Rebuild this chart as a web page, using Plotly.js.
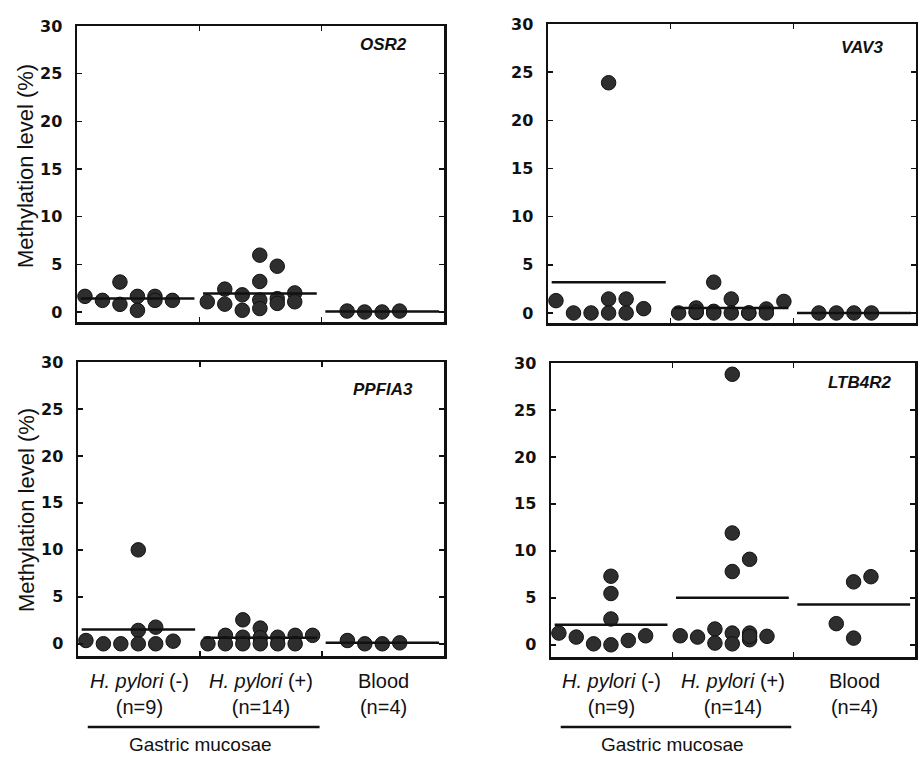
<!DOCTYPE html>
<html>
<head>
<meta charset="utf-8">
<script src="https://cdn.plot.ly/plotly-3.0.1.min.js"></script>
<style>html,body{margin:0;padding:0;background:#fff;}#chart{width:918px;height:758px;}</style>
</head>
<body>
<div id="chart"></div>
<script>
// ---- data ----
const genes = ['OSR2', 'VAV3', 'PPFIA3', 'LTB4R2'];
const groupNames = ['<i>H. pylori</i> (-)', '<i>H. pylori</i> (+)', 'Blood'];
const groupN = ['(n=9)', '(n=14)', '(n=4)'];
const bracketLabel = 'Gastric mucosae';
const yTicks = [0, 5, 10, 15, 20, 25, 30];
const yTitle = 'Methylation level (%)';

// values per group and column index of each dot within its group
const osr2Neg = [1.64, 1.22, 3.14, 0.8, 1.64, 0.17, 1.64, 1.22, 1.22];
const osr2NegCol = [0, 1, 2, 2, 3, 3, 4, 4, 5];
const osr2Pos = [1.07, 2.4, 0.82, 1.8, 0.18, 5.96, 3.2, 1.25, 0.36, 4.8, 1.4, 0.9, 2.0, 1.07];
const osr2PosCol = [0, 1, 1, 2, 2, 3, 3, 3, 3, 4, 4, 4, 5, 5];
const osr2Blood = [0.1, 0, 0, 0.1];
const osr2BloodCol = [1, 2, 3, 4];
const osr2Means = [1.41, 1.95, 0.05];

const vav3Neg = [1.28, 0, 0, 23.9, 1.45, 0, 1.45, 0, 0.45];
const vav3NegCol = [0, 1, 2, 3, 3, 3, 4, 4, 5];
const vav3Pos = [0, 0.52, 0.05, 3.2, 0.17, 0, 1.45, 0, 0, 0.41, 0, 1.2, 0.1, 0];
const vav3PosCol = [0, 1, 1, 2, 2, 2, 3, 3, 4, 5, 5, 6, 1, 4];
const vav3Blood = [0, 0, 0, 0];
const vav3BloodCol = [1, 2, 3, 4];
const vav3Means = [3.2, 0.52, 0];

const ppfia3Neg = [0.35, 0, 0, 10.0, 1.42, 0, 1.77, 0, 0.28];
const ppfia3NegCol = [0, 1, 2, 3, 3, 3, 4, 4, 5];
const ppfia3Pos = [0, 0.9, 0, 2.55, 0.7, 0, 1.67, 0.65, 0, 0.7, 0, 0.9, 0, 0.9];
const ppfia3PosCol = [0, 1, 1, 2, 2, 2, 3, 3, 3, 4, 4, 5, 5, 6];
const ppfia3Blood = [0.35, 0, 0, 0.1];
const ppfia3BloodCol = [1, 2, 3, 4];
const ppfia3Means = [1.52, 0.64, 0.1];

const ltb4r2Neg = [1.25, 0.82, 0.1, 7.3, 5.46, 2.75, 0, 0.46, 0.96];
const ltb4r2NegCol = [0, 1, 2, 3, 3, 3, 3, 4, 5];
const ltb4r2Pos = [0.96, 0.82, 1.68, 0.18, 28.8, 11.9, 7.8, 1.25, 0.1, 9.1, 1.25, 0.54, 0.9, 0.9];
const ltb4r2PosCol = [0, 1, 2, 2, 3, 3, 3, 3, 3, 4, 4, 4, 4, 5];
const ltb4r2Blood = [2.25, 6.7, 0.71, 7.25];
const ltb4r2BloodCol = [2, 3, 3, 4];
const ltb4r2Means = [2.14, 5.0, 4.3];

// ---- build ----
const panels = [
  {gene: genes[0], groups: [[osr2Neg, osr2NegCol], [osr2Pos, osr2PosCol], [osr2Blood, osr2BloodCol]], means: osr2Means},
  {gene: genes[1], groups: [[vav3Neg, vav3NegCol], [vav3Pos, vav3PosCol], [vav3Blood, vav3BloodCol]], means: vav3Means},
  {gene: genes[2], groups: [[ppfia3Neg, ppfia3NegCol], [ppfia3Pos, ppfia3PosCol], [ppfia3Blood, ppfia3BloodCol]], means: ppfia3Means},
  {gene: genes[3], groups: [[ltb4r2Neg, ltb4r2NegCol], [ltb4r2Pos, ltb4r2PosCol], [ltb4r2Blood, ltb4r2BloodCol]], means: ltb4r2Means}
];

const W = 918, H = 758;
// panel boxes in pixels: [left, right, top, bottom]
const boxes = [[77, 444, 26, 322], [548, 916, 24, 323], [78, 444, 362, 656], [551, 915, 363, 657]];
const yRanges = [[-1.05, 30], [-1.04, 30], [-1.3, 30], [-1.3, 30]];
const labelPos = [[0.834, 0.936], [0.853, 0.923], [0.833, 0.905], [0.849, 0.932]];

const COLSTEP = 0.143, COL0 = 0.065;
const FONT = 'Liberation Sans, Arial, Helvetica, sans-serif';
const traces = [];
const layout = {
  width: W, height: H,
  margin: {l: 0, r: 0, t: 0, b: 0},
  paper_bgcolor: '#fff', plot_bgcolor: '#fff',
  showlegend: false,
  font: {family: FONT, color: '#111'},
  annotations: [], shapes: []
};

panels.forEach((p, i) => {
  const sfx = i === 0 ? '' : String(i + 1);
  const xa = 'x' + sfx, ya = 'y' + sfx;
  p.groups.forEach((g, gi) => {
    const vals = g[0], cols = g[1];
    traces.push({
      type: 'scatter', mode: 'markers', xaxis: xa, yaxis: ya,
      x: cols.map(c => gi + COL0 + COLSTEP * c), y: vals,
      marker: {size: 14.5, color: '#2e2e2e', line: {color: '#111', width: 1}},
      hoverinfo: 'y'
    });
    traces.push({
      type: 'scatter', mode: 'lines', xaxis: xa, yaxis: ya,
      x: [gi + 0.03, gi + 0.96], y: [p.means[gi], p.means[gi]],
      line: {color: '#111', width: 2.5}, hoverinfo: 'skip'
    });
  });
  const b = boxes[i];
  layout['xaxis' + sfx] = {
    domain: [b[0] / W, b[1] / W], anchor: ya, range: [0, 3],
    tickvals: [1, 2], ticks: 'inside', ticklen: 5, tickwidth: 1.5, tickcolor: '#111',
    showticklabels: false, showgrid: false, zeroline: false,
    showline: true, linewidth: 2.5, linecolor: '#111', mirror: 'ticks', fixedrange: true
  };
  layout['yaxis' + sfx] = {
    domain: [1 - b[3] / H, 1 - b[2] / H], anchor: xa, range: yRanges[i],
    tickvals: yTicks, ticks: 'inside', ticklen: 5, tickwidth: 1.5, tickcolor: '#111',
    tickfont: {family: 'DejaVu Sans, Arial, sans-serif', size: 16, weight: 'bold', color: '#111'},
    ticklabelstandoff: 9,
    showgrid: false, zeroline: false,
    showline: true, linewidth: 2.5, linecolor: '#111', mirror: 'ticks', fixedrange: true
  };
  layout.annotations.push({
    xref: xa + ' domain', yref: ya + ' domain', x: labelPos[i][0], y: labelPos[i][1],
    text: '<b><i>' + p.gene + '</i></b>', showarrow: false,
    font: {size: 17, family: FONT, color: '#111'},
    xanchor: 'center', yanchor: 'middle'
  });
  // y axis titles on left panels
  if (i === 0 || i === 2) {
    layout.annotations.push({
      xref: 'paper', yref: 'paper', x: 26 / W, y: 1 - (i === 0 ? 166 : 510) / H,
      text: yTitle, textangle: -90, showarrow: false,
      font: {size: 22, family: FONT, color: '#111'},
      xanchor: 'center', yanchor: 'middle'
    });
  }
  // group labels under bottom panels
  if (i >= 2) {
    groupNames.forEach((gn, gi) => {
      layout.annotations.push({
        xref: xa, yref: 'paper', x: gi + 0.5, y: 1 - 694 / H,
        text: gn + '<br>' + groupN[gi], showarrow: false,
        font: {size: 20, family: FONT, color: '#111'},
        xanchor: 'center', yanchor: 'middle'
      });
    });
    layout.shapes.push({
      type: 'line', xref: xa, yref: 'paper', x0: 0.08, x1: 1.98,
      y0: 1 - 727 / H, y1: 1 - 727 / H, line: {color: '#111', width: 2.5}
    });
    layout.annotations.push({
      xref: xa, yref: 'paper', x: 1.0, y: 2 / H,
      text: bracketLabel, showarrow: false,
      font: {size: 19, family: FONT, color: '#111'},
      xanchor: 'center', yanchor: 'bottom', borderpad: 0
    });
  }
});

Plotly.newPlot('chart', traces, layout, {staticPlot: true, displayModeBar: false});
</script>
</body>
</html>
